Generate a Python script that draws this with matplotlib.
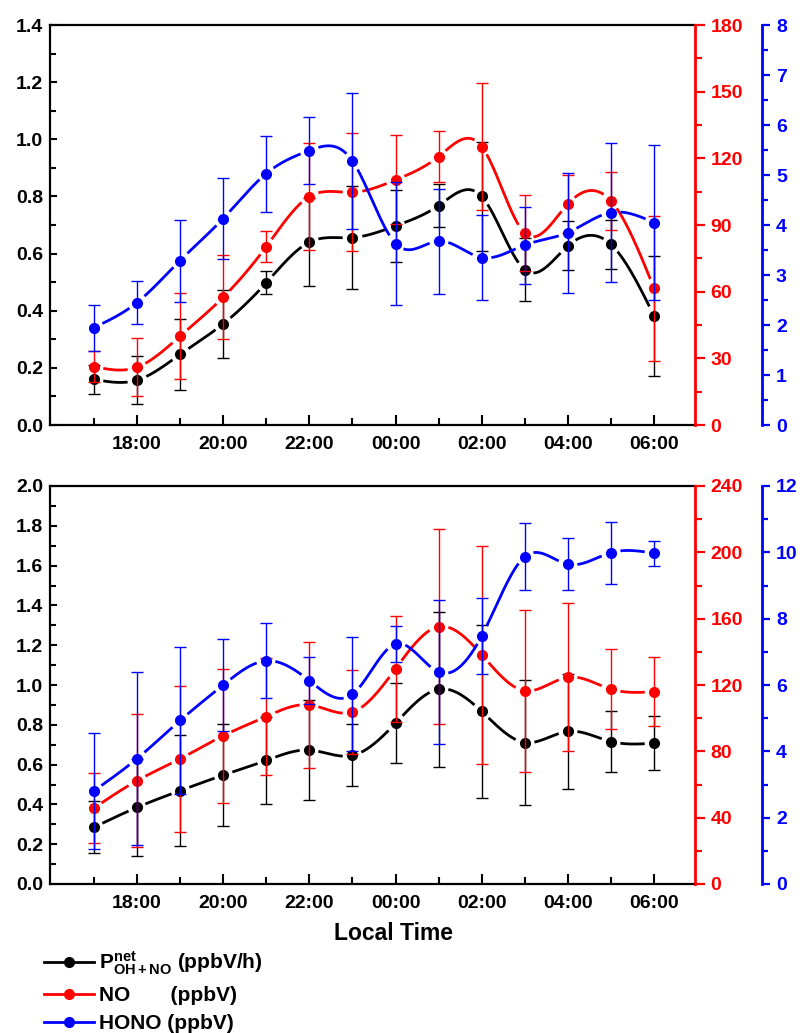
import numpy as np
import matplotlib
matplotlib.use('Agg')
import matplotlib.pyplot as plt
from matplotlib.ticker import MultipleLocator, FixedLocator, FormatStrFormatter
from matplotlib.lines import Line2D

# ---------------- data ----------------
hours = ['17:00', '18:00', '19:00', '20:00', '21:00', '22:00', '23:00',
         '00:00', '01:00', '02:00', '03:00', '04:00', '05:00', '06:00']

# top panel
P_top = [0.160, 0.157, 0.247, 0.354, 0.498, 0.640, 0.656, 0.697, 0.768, 0.800, 0.543, 0.627, 0.632, 0.382]
P_top_err = [0.05, 0.085, 0.125, 0.12, 0.04, 0.155, 0.18, 0.125, 0.076, 0.19, 0.11, 0.086, 0.085, 0.21]
NO_top = [26.3, 26.0, 40.0, 57.5, 80.3, 102.8, 104.7, 110.3, 120.8, 125.3, 86.3, 99.5, 100.8, 61.5]
NO_top_err = [7, 13, 19.5, 19, 7, 24, 26.5, 20, 11.5, 28.7, 17, 13, 13, 32.6]
HONO_top = [1.95, 2.45, 3.29, 4.13, 5.03, 5.49, 5.28, 3.63, 3.68, 3.35, 3.60, 3.85, 4.25, 4.05]
HONO_top_err = [0.46, 0.435, 0.82, 0.81, 0.76, 0.665, 1.36, 1.23, 1.05, 0.85, 0.77, 1.2, 1.39, 1.55]

# bottom panel
P_bot = [0.285, 0.385, 0.469, 0.547, 0.621, 0.673, 0.646, 0.808, 0.979, 0.867, 0.711, 0.767, 0.716, 0.708]
P_bot_err = [0.13, 0.245, 0.278, 0.258, 0.22, 0.25, 0.156, 0.2, 0.39, 0.437, 0.315, 0.288, 0.155, 0.134]
NO_bot = [45.8, 62.3, 75.5, 89.4, 101.0, 108.0, 103.7, 129.8, 155.2, 138.2, 116.5, 124.7, 117.5, 116.0]
NO_bot_err = [21.3, 40, 44, 40.5, 35, 38, 25.5, 32, 58.8, 65.7, 49, 44.5, 24, 20.7]
HONO_bot = [2.81, 3.78, 4.93, 6.00, 6.73, 6.13, 5.72, 7.24, 6.39, 7.48, 9.87, 9.64, 9.99, 9.97]
HONO_bot_err = [1.75, 2.6, 2.22, 1.39, 1.13, 0.71, 1.72, 0.55, 2.17, 1.14, 1.01, 0.78, 0.93, 0.37]

labels = [r'$\mathrm{P}^{\mathrm{net}}_{\mathrm{OH+NO}}$ (ppbV/h)',
          'NO       (ppbV)',
          'HONO (ppbV)']
colors = ['black', 'red', 'blue']

# ---------------- style ----------------
plt.rcParams['font.family'] = ['Liberation Sans', 'DejaVu Sans']
plt.rcParams['font.weight'] = 'bold'
plt.rcParams['mathtext.fontset'] = 'custom'
plt.rcParams['mathtext.rm'] = 'Liberation Sans:bold'
plt.rcParams['mathtext.it'] = 'Liberation Sans:bold'
plt.rcParams['mathtext.bf'] = 'Liberation Sans:bold'

FS = 14
W, H = 802, 1033
fig = plt.figure(figsize=(W / 100, H / 100), dpi=100)

x = np.arange(len(hours))


def spline(xk, yk, n=600):
    xk = np.asarray(xk, float)
    yk = np.asarray(yk, float)
    m = len(xk)
    h = np.diff(xk)
    A = np.zeros((m, m))
    r = np.zeros(m)
    A[0, 0] = 1
    A[-1, -1] = 1
    for i in range(1, m - 1):
        A[i, i - 1] = h[i - 1]
        A[i, i] = 2 * (h[i - 1] + h[i])
        A[i, i + 1] = h[i]
        r[i] = 6 * ((yk[i + 1] - yk[i]) / h[i] - (yk[i] - yk[i - 1]) / h[i - 1])
    M = np.linalg.solve(A, r)
    xs = np.linspace(xk[0], xk[-1], n)
    idx = np.clip(np.searchsorted(xk, xs) - 1, 0, m - 2)
    x0, x1 = xk[idx], xk[idx + 1]
    hh = x1 - x0
    a = (x1 - xs) / hh
    b = (xs - x0) / hh
    ys = (a * yk[idx] + b * yk[idx + 1]
          + ((a ** 3 - a) * M[idx] + (b ** 3 - b) * M[idx + 1]) * hh ** 2 / 6)
    return xs, ys


def draw_series(axis, yv, err, color, gap=9.0):
    xs, ys = spline(x, yv)
    pts = axis.transData.transform(np.column_stack([xs, ys]))
    mk = axis.transData.transform(np.column_stack([x, yv]))
    d = np.min(np.hypot(pts[:, 0][:, None] - mk[:, 0][None, :],
                        pts[:, 1][:, None] - mk[:, 1][None, :]), axis=1)
    ym = np.where(d < gap, np.nan, ys)
    axis.plot(xs, ym, color=color, lw=2.0, solid_capstyle='butt', zorder=2)
    axis.errorbar(x, yv, yerr=err, fmt='o', color=color, ms=7,
                  elinewidth=1.0, capsize=4, capthick=1.0, zorder=3)


def panel(top_px, bot_px, P, Perr, NO, NOerr, HONO, HONOerr,
          lmax, nomax, nomaj, nomin, homax, homaj, homin):
    left_px, right_px = 50, 695
    rect = [left_px / W, 1 - bot_px / H, (right_px - left_px) / W, (bot_px - top_px) / H]
    ax = fig.add_axes(rect)
    ax2 = ax.twinx()
    ax3 = ax.twinx()
    ax.set_xlim(-1.02, 13.95)
    ax.set_ylim(0, lmax)
    ax2.set_ylim(0, nomax)
    ax3.set_ylim(0, homax)

    for s in ax.spines.values():
        s.set_linewidth(1.6)
    ax.spines['right'].set_visible(False)
    for a in (ax2, ax3):
        for k in ('left', 'top', 'bottom'):
            a.spines[k].set_visible(False)
    ax2.spines['right'].set_color('red')
    ax2.spines['right'].set_linewidth(2.0)
    ax3.spines['right'].set_color('blue')
    ax3.spines['right'].set_linewidth(2.0)
    ax3.spines['right'].set_position(('axes', (762 - left_px) / (right_px - left_px)))

    # x axis
    ax.xaxis.set_major_locator(FixedLocator(x[1::2]))
    ax.set_xticklabels(hours[1::2])
    ax.xaxis.set_minor_locator(FixedLocator(x[0::2]))
    ax.tick_params(axis='x', which='major', direction='in', length=7, width=1.5,
                   labelsize=FS, pad=8, top=False)
    ax.tick_params(axis='x', which='minor', direction='in', length=5, width=1.5, top=False)

    # left axis
    ax.yaxis.set_major_locator(MultipleLocator(0.2))
    ax.yaxis.set_minor_locator(MultipleLocator(0.1))
    ax.yaxis.set_major_formatter(FormatStrFormatter('%.1f'))
    ax.tick_params(axis='y', which='major', direction='in', length=5, width=1.5,
                   labelsize=FS, pad=5, right=False)
    ax.tick_params(axis='y', which='minor', direction='in', length=4, width=1.5, right=False)

    # NO axis
    ax2.yaxis.set_major_locator(MultipleLocator(nomaj))
    ax2.yaxis.set_minor_locator(MultipleLocator(nomin))
    ax2.tick_params(axis='y', which='major', direction='out', length=7, width=1.6,
                    colors='red', labelsize=FS, pad=4)
    ax2.tick_params(axis='y', which='minor', direction='out', length=5, width=1.6, colors='red')

    # HONO axis
    ax3.yaxis.set_major_locator(MultipleLocator(homaj))
    ax3.yaxis.set_minor_locator(MultipleLocator(homin))
    ax3.yaxis.set_major_formatter(FormatStrFormatter('%g'))
    ax3.tick_params(axis='y', which='major', direction='out', length=6, width=1.6,
                    colors='blue', labelsize=FS, pad=4)
    ax3.tick_params(axis='y', which='minor', direction='out', length=4, width=1.6, colors='blue')

    draw_series(ax, P, Perr, 'black')
    draw_series(ax2, NO, NOerr, 'red')
    draw_series(ax3, HONO, HONOerr, 'blue')
    return ax


ax_top = panel(25, 425, P_top, P_top_err, NO_top, NO_top_err, HONO_top, HONO_top_err,
               1.4, 180, 30, 15, 8, 1, 0.5)
ax_bot = panel(486, 884, P_bot, P_bot_err, NO_bot, NO_bot_err, HONO_bot, HONO_bot_err,
               2.0, 240, 40, 20, 12, 2, 1)

ax_bot.set_xlabel('Local Time', fontsize=16.5, fontweight='bold')
ax_bot.xaxis.set_label_coords((394 - 50) / 645, (884 - 933) / 398)
ax_bot.xaxis.label.set_va('center')

handles = [Line2D([], [], color=c, lw=2.0, marker='o', ms=7) for c in colors]
fig.legend(handles, labels, loc='upper left', bbox_to_anchor=(44 / W, 1 - 950 / H),
           frameon=False, fontsize=15, handlelength=2.4, handletextpad=0.25,
           borderpad=0, borderaxespad=0, labelspacing=0.42, numpoints=1)

fig.savefig('out.png', dpi=100)
